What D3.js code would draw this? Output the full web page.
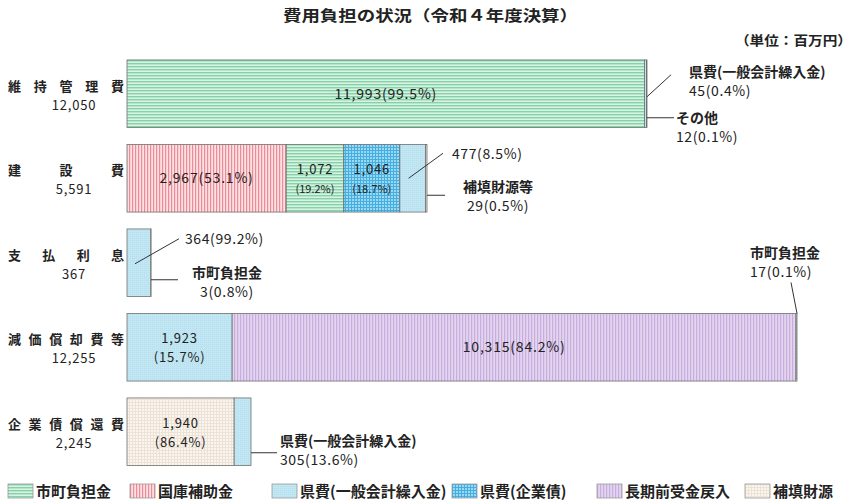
<!DOCTYPE html>
<html>
<head>
<meta charset="utf-8">
<script src="https://cdn.jsdelivr.net/npm/d3@7"></script>
<style>
  body { margin: 0; background: #fff; }
  svg { font-family: "Noto Sans CJK JP", "Noto Sans", sans-serif; }
</style>
</head>
<body>
<div id="chart"></div>
<script>
(function() {

    var width = 858, height = 504;

    // data (百万円)
    var categories = ["維持管理費", "建設費", "支払利息", "減価償却費等", "企業債償還費"];
    var totals = [12050, 5591, 367, 12255, 2245];
    var sources = ["市町負担金", "国庫補助金", "県費(一般会計繰入金)", "県費(企業債)", "長期前受金戻入", "補填財源"];

    // segments of each bar, in drawing order: [source, value]
    var seg_maintenance = [["市町負担金", 11993], ["県費(一般会計繰入金)", 45], ["その他", 12]];
    var seg_construction = [["国庫補助金", 2967], ["市町負担金", 1072], ["県費(企業債)", 1046], ["県費(一般会計繰入金)", 477], ["補填財源", 29]];
    var seg_interest = [["県費(一般会計繰入金)", 364], ["市町負担金", 3]];
    var seg_depreciation = [["県費(一般会計繰入金)", 1923], ["長期前受金戻入", 10315], ["市町負担金", 17]];
    var seg_redemption = [["補填財源", 1940], ["県費(一般会計繰入金)", 305]];
    var segments = [seg_maintenance, seg_construction, seg_interest, seg_depreciation, seg_redemption];

    var fmt = d3.format(",");
    var pct = function(v, t) { return "(" + d3.format(".1f")(v / t * 100) + "%)"; };

    var svg = d3.select("#chart").append("svg")
        .attr("width", width)
        .attr("height", height);

    /*
        hatch patterns for each source
    */
    var defs = svg.append("defs");
    function pattern(id, w, h, bg, draw) {
        var p = defs.append("pattern").attr("id", id)
            .attr("patternUnits", "userSpaceOnUse")
            .attr("width", w).attr("height", h);
        p.append("rect").attr("width", w).attr("height", h).attr("fill", bg);
        draw(p);
    }
    pattern("p0", 4, 3, "#d8f2e3", function(p) {
        p.append("rect").attr("y", 0).attr("width", 4).attr("height", 1.4).attr("fill", "#86d2a8");
    });
    pattern("p1", 3, 4, "#fde0e3", function(p) {
        p.append("rect").attr("x", 0).attr("width", 1.2).attr("height", 4).attr("fill", "#ea8d97");
    });
    pattern("p2", 2, 2, "#c2e7f3", function(p) {
        p.append("rect").attr("width", 1).attr("height", 1).attr("fill", "#b2dfee");
    });
    pattern("p3", 3, 3, "#9bd9f2", function(p) {
        p.append("rect").attr("width", 3).attr("height", 1).attr("fill", "#45aee0");
        p.append("rect").attr("width", 1).attr("height", 3).attr("fill", "#45aee0");
    });
    pattern("p4", 3, 4, "#e3d5ef", function(p) {
        p.append("rect").attr("width", 1.2).attr("height", 4).attr("fill", "#c8addf");
    });
    pattern("p5", 3, 3, "#faf5ef", function(p) {
        p.append("rect").attr("width", 3).attr("height", 1).attr("fill", "#ece2d6");
        p.append("rect").attr("width", 1).attr("height", 3).attr("fill", "#ece2d6");
    });
    var fillOf = function(s) {
        var i = sources.indexOf(s);
        return i < 0 ? "#f2f2f2" : "url(#p" + i + ")";
    };

    /*
        scales: bar lengths in the original are not to scale,
        so a piecewise linear scale over the sorted totals is used
    */
    var x0 = 127;
    var sortedTotals = totals.slice().sort(d3.ascending);
    var x = d3.scaleLinear()
        .domain([0].concat(sortedTotals))
        .range([0, 24, 124, 300, 520, 670]);

    var y = d3.scaleBand()
        .domain(categories)
        .range([51.5, 474])
        .paddingInner(0.2)
        .paddingOuter(0.1);

    // title
    svg.append("text")
        .attr("x", 283).attr("y", 21)
        .attr("textLength", 295).attr("lengthAdjust", "spacingAndGlyphs")
        .attr("font-size", 15).attr("font-weight", "bold").attr("fill", "#222")
        .text("費用負担の状況（令和４年度決算）");
    svg.append("text")
        .attr("x", 735).attr("y", 45)
        .attr("textLength", 117).attr("lengthAdjust", "spacingAndGlyphs")
        .attr("font-size", 13).attr("font-weight", "bold").attr("fill", "#222")
        .text("（単位：百万円）");

    /*
        category labels
    */
    categories.forEach(function(c, i) {
        var cy = y(c) + y.bandwidth() / 2;
        svg.append("text")
            .attr("x", 8).attr("y", cy - 3)
            .attr("textLength", 116).attr("lengthAdjust", "spacing")
            .attr("font-size", 13).attr("font-weight", "bold").attr("fill", "#222")
            .text(c);
        svg.append("text")
            .attr("x", 74).attr("y", cy + 16)
            .attr("text-anchor", "middle")
            .attr("font-size", 13).attr("letter-spacing", 0.8).attr("fill", "#222")
            .text(fmt(totals[i]));
    });

    /*
        stacked segments of each bar
    */
    var geo = [];
    categories.forEach(function(c, i) {
        var len = x(totals[i]);
        var acc = 0;
        var g = svg.append("g");
        geo[i] = [];
        segments[i].forEach(function(s) {
            var sx = x0 + acc / totals[i] * len;
            var sw = s[1] / totals[i] * len;
            acc += s[1];
            geo[i].push({x: sx, w: sw});
            g.append("rect")
                .attr("x", sx).attr("y", y(c))
                .attr("width", sw).attr("height", y.bandwidth())
                .attr("fill", fillOf(s[0]))
                .attr("stroke", "#6f6f6f").attr("stroke-width", 0.8);
        });
    });

    function inside(i, j, twoLine, small) {
        var s = segments[i][j], gg = geo[i][j];
        var cx = gg.x + gg.w / 2, cy = y(categories[i]) + y.bandwidth() / 2;
        if (!twoLine) {
            svg.append("text").attr("x", cx).attr("y", cy + 5)
                .attr("text-anchor", "middle").attr("font-size", 14).attr("letter-spacing", 0.8).attr("fill", "#222")
                .text(fmt(s[1]) + pct(s[1], totals[i]));
        } else {
            svg.append("text").attr("x", cx).attr("y", cy - 4)
                .attr("text-anchor", "middle").attr("font-size", 13).attr("letter-spacing", 0.8).attr("fill", "#222")
                .text(fmt(s[1]));
            svg.append("text").attr("x", cx).attr("y", cy + 15)
                .attr("text-anchor", "middle").attr("font-size", small ? 11 : 13)
                .attr("letter-spacing", small ? 0 : 0.8).attr("fill", "#222")
                .text(pct(s[1], totals[i]));
        }
    }
    inside(0, 0, false);
    inside(1, 0, false);
    inside(1, 1, true, true);
    inside(1, 2, true, true);
    inside(3, 0, true);
    inside(3, 1, false);
    inside(4, 0, true);

    /*
        callouts for the small pieces
    */
    function line(a, b, c, d) {
        svg.append("line").attr("x1", a).attr("y1", b).attr("x2", c).attr("y2", d)
            .attr("stroke", "#333").attr("stroke-width", 1);
    }
    function label(tx, ty, anchor, name, i, j) {
        var s = segments[i][j];
        if (name) {
            svg.append("text").attr("x", tx).attr("y", ty)
                .attr("text-anchor", anchor).attr("font-size", 14).attr("font-weight", "bold").attr("fill", "#222")
                .text(name);
            ty += 19;
        }
        svg.append("text").attr("x", tx).attr("y", ty)
            .attr("text-anchor", anchor).attr("font-size", 14).attr("letter-spacing", 0.6).attr("fill", "#222")
            .text(fmt(s[1]) + pct(s[1], totals[i]));
    }
    function barEnd(i) { return x0 + x(totals[i]); }
    function midY(i) { return y(categories[i]) + y.bandwidth() / 2; }

    // 維持管理費
    var e = barEnd(0), cy = midY(0);
    line(e, cy + 3, e + 24, cy - 19);
    label(e + 42, cy - 17, "start", "県費(一般会計繰入金)", 0, 1);
    line(e, cy + 24, e + 27, cy + 24);
    label(e + 29, cy + 29, "start", "その他", 0, 2);

    // 建設費
    e = barEnd(1); cy = midY(1);
    var g13 = geo[1][3];
    line(g13.x + g13.w / 2 - 4, cy, e + 16, cy - 25);
    label(e + 25, cy - 19, "start", null, 1, 3);
    line(e, cy + 17, e + 18, cy + 17);
    label(e + 71, cy + 14, "middle", "補填財源等", 1, 4);

    // 支払利息
    e = barEnd(2); cy = midY(2);
    line(x0 + 8, cy + 1, x0 + 52, cy - 24);
    label(x0 + 58, cy - 19, "start", null, 2, 0);
    line(e, cy + 17, e + 27, cy + 17);
    label(x0 + 100, cy + 15, "middle", "市町負担金", 2, 1);

    // 減価償却費等
    e = barEnd(3);
    var top = y(categories[3]);
    line(e, top, e - 6, top - 31);
    label(e - 47, top - 55, "start", "市町負担金", 3, 2);

    // 企業債償還費
    e = barEnd(4); cy = midY(4);
    line(e, cy + 21, e + 26, cy + 21);
    label(e + 29, cy + 14, "start", "県費(一般会計繰入金)", 4, 1);

    /*
        legend
    */
    var legendX = [8, 130, 272, 452, 597, 745];
    var legend = svg.selectAll(".legend")
        .data(sources)
        .enter().append("g")
        .attr("class", "legend")
        .attr("transform", function(d, i) { return "translate(" + legendX[i] + ",484)"; });
    legend.append("rect")
        .attr("width", 25).attr("height", 14)
        .attr("fill", function(d) { return fillOf(d); })
        .attr("stroke", "#999").attr("stroke-width", 0.8);
    legend.append("text")
        .attr("x", 28).attr("y", 13)
        .attr("font-size", 15).attr("font-weight", "bold").attr("fill", "#222")
        .text(function(d) { return d; });

})();
</script>
</body>
</html>
